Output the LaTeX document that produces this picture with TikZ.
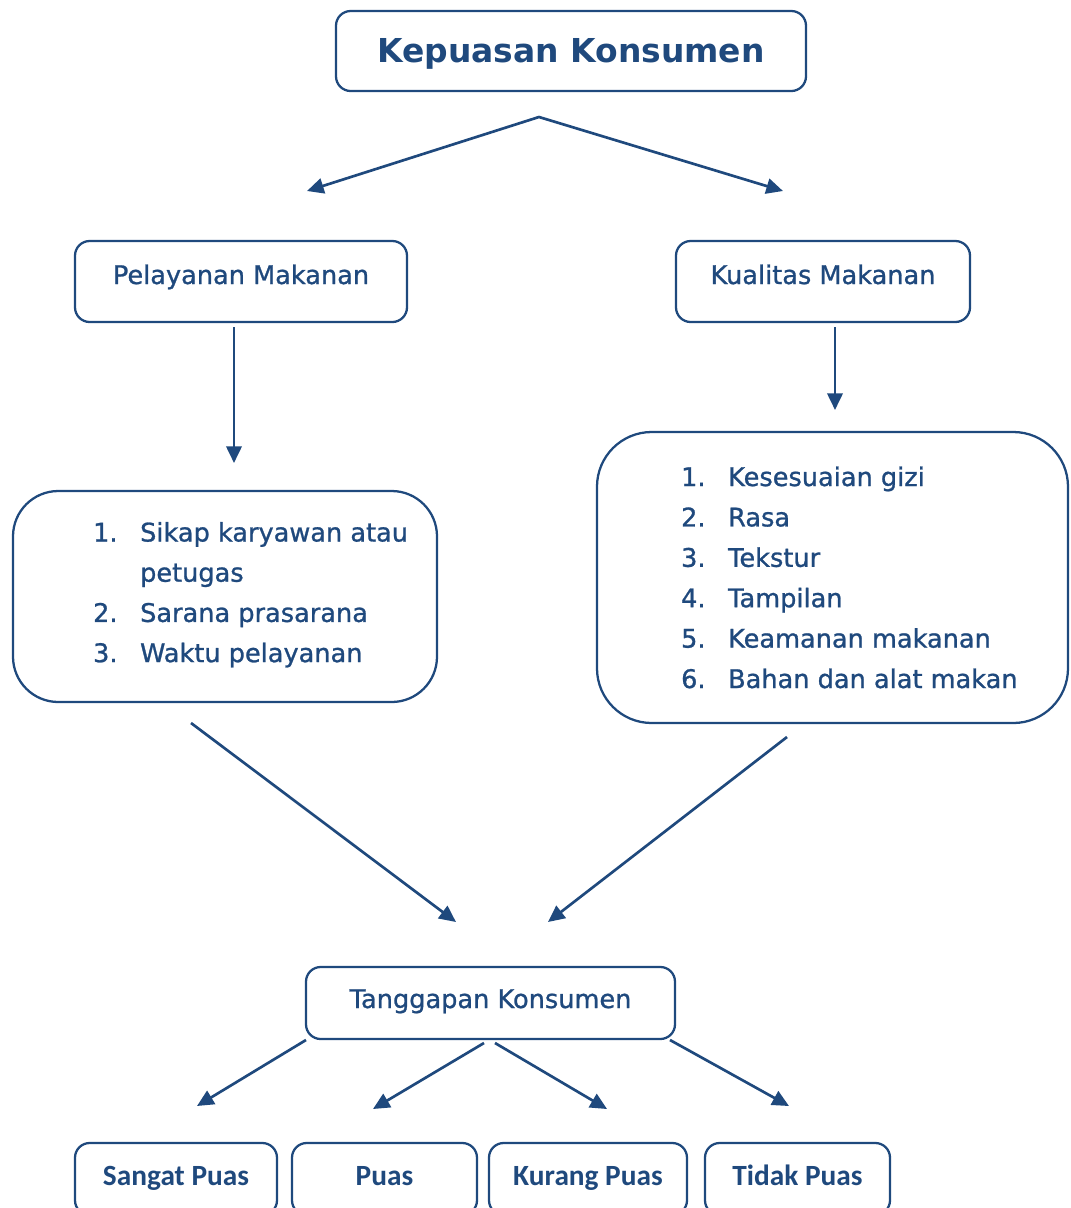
\documentclass[tikz,border=0pt]{standalone}
\usepackage{fontspec}
\setmainfont{DejaVu Sans}
\newfontfamily\heavyfont{DejaVu Sans}[FakeBold=1]
\newfontfamily\calfont{Carlito}
\usetikzlibrary{arrows.meta}
\definecolor{navy}{HTML}{1F497D}

\begin{document}
\begin{tikzpicture}[x=0.75pt, y=-0.75pt, line width=1.7pt, color=navy,
    box/.style={draw, rounded corners=11pt, inner xsep=0pt, inner ysep=0pt,
      font=\heavyfont\fontsize{19.2pt}{23pt}\selectfont},
    listbox/.style={draw, inner sep=0pt},
    item/.style={anchor=base west, inner sep=0pt, font=\heavyfont\fontsize{19.2pt}{23pt}\selectfont},
    answer/.style={box, text height=31.5pt, text depth=22.5pt,
      font=\calfont\bfseries\fontsize{22pt}{26pt}\selectfont},
    arr/.style={line width=2pt, -{Triangle[length=12.5pt, width=11.5pt]}}]
  \clip (0,0) rectangle (1071,1208);
  % top box
  \node[box, minimum width=352.5pt, text height=38.25pt, text depth=21.75pt,
    font=\bfseries\fontsize{24.7pt}{29pt}\selectfont] (kepuasan) at (571,51) {Kepuasan Konsumen};
  \node[box, minimum width=249pt, text height=32.25pt, text depth=28.5pt] (pelayanan) at (241,281.5) {Pelayanan Makanan};
  \node[box, minimum width=220.5pt, text height=32.25pt, text depth=28.5pt] (kualitas) at (823,281.5) {Kualitas Makanan};
  % lists
  \node[listbox, rounded corners=34pt, minimum width=318pt, minimum height=158.25pt] (plist) at (225,596.5) {};
  \node[item] (p1n) at (92,541.5) {1.};
  \node[item] (p1) at (139,541.5) {Sikap karyawan atau};
  \node[item] (p1b) at (139,581.7) {petugas};
  \node[item] (p2n) at (92,621.9) {2.};
  \node[item] (p2) at (139,621.9) {Sarana prasarana};
  \node[item] (p3n) at (92,662.1) {3.};
  \node[item] (p3) at (139,662.1) {Waktu pelayanan};
  \node[listbox, rounded corners=41pt, minimum width=353.25pt, minimum height=218.25pt] (klist) at (832.5,577.5) {};
  \node[item] (k1n) at (680,486) {1.};
  \node[item] (k1) at (727,486) {Kesesuaian gizi};
  \node[item] (k2n) at (680,526.4) {2.};
  \node[item] (k2) at (727,526.4) {Rasa};
  \node[item] (k3n) at (680,566.8) {3.};
  \node[item] (k3) at (727,566.8) {Tekstur};
  \node[item] (k4n) at (680,607.2) {4.};
  \node[item] (k4) at (727,607.2) {Tampilan};
  \node[item] (k5n) at (680,647.6) {5.};
  \node[item] (k5) at (727,647.6) {Keamanan makanan};
  \node[item] (k6n) at (680,688) {6.};
  \node[item] (k6) at (727,688) {Bahan dan alat makan};
  % response
  \node[box, minimum width=276.75pt, text height=30.75pt, text depth=23.25pt] (tanggapan) at (490.5,1003) {Tanggapan Konsumen};
  \node[answer, minimum width=151.5pt] (sangat) at (176,1179) {Sangat Puas};
  \node[answer, minimum width=138.75pt] (puas) at (384.5,1179) {Puas};
  \node[answer, minimum width=148.5pt] (kurang) at (588,1179) {Kurang Puas};
  \node[answer, minimum width=138.75pt] (tidak) at (797.5,1179) {Tidak Puas};
  % arrow ends
  \coordinate (apex) at (539,117);
  \coordinate (pelIn) at (307,191);
  \coordinate (kualIn) at (783,191);
  \coordinate (pelOut) at (234,327);
  \coordinate (plistIn) at (234,463);
  \coordinate (kualOut) at (835,327);
  \coordinate (klistIn) at (835,410);
  \coordinate (plistOut) at (191,723);
  \coordinate (klistOut) at (787,737);
  \coordinate (tangL) at (456,922);
  \coordinate (tangR) at (548,922);
  \coordinate (t1) at (306,1040);
  \coordinate (t2) at (484,1043);
  \coordinate (t3) at (495,1043);
  \coordinate (t4) at (670,1040);
  \coordinate (a1) at (197,1106);
  \coordinate (a2) at (373,1109);
  \coordinate (a3) at (607,1109);
  \coordinate (a4) at (789,1106);
  % arrows
  \draw[arr, {Triangle[length=12.5pt, width=11.5pt]}-{Triangle[length=12.5pt, width=11.5pt]}] (pelIn) -- (apex) -- (kualIn);
  \draw[arr] (pelOut) -- (plistIn);
  \draw[arr] (kualOut) -- (klistIn);
  \draw[arr] (plistOut) -- (tangL);
  \draw[arr] (klistOut) -- (tangR);
  \draw[arr] (t1) -- (a1);
  \draw[arr] (t2) -- (a2);
  \draw[arr] (t3) -- (a3);
  \draw[arr] (t4) -- (a4);
\end{tikzpicture}
\end{document}
